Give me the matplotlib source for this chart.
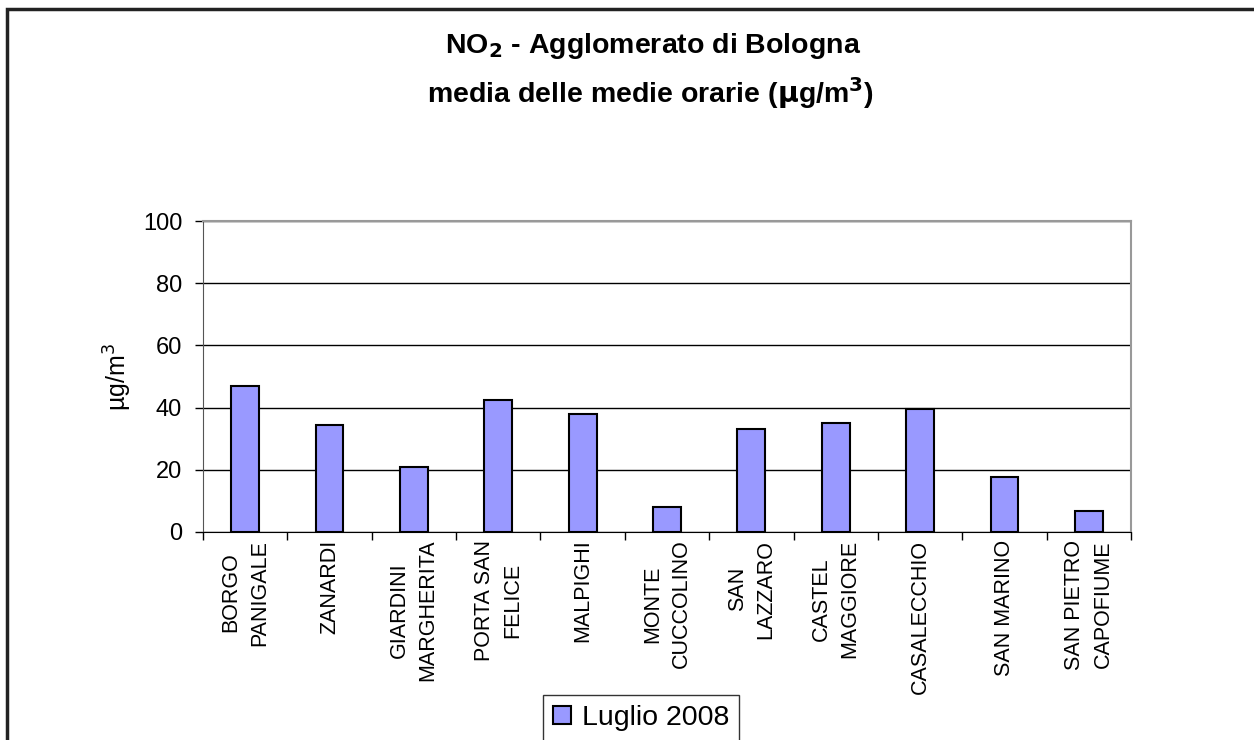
import matplotlib.pyplot as plt
from matplotlib.patches import Rectangle
import numpy as np

plt.rcParams['font.family'] = ['Liberation Sans', 'DejaVu Sans']

# stations and monthly mean NO2 (ug/m3)
stations = ['BORGO\nPANIGALE', 'ZANARDI', 'GIARDINI\nMARGHERITA', 'PORTA SAN\nFELICE',
            'MALPIGHI', 'MONTE\nCUCCOLINO', 'SAN\nLAZZARO', 'CASTEL\nMAGGIORE',
            'CASALECCHIO', 'SAN MARINO', 'SAN PIETRO\nCAPOFIUME']
values = [47.1, 34.3, 20.8, 42.6, 38.1, 8.1, 33.1, 35.0, 39.4, 17.7, 6.7]
series_name = 'Luglio 2008'
yticks = [0, 20, 40, 60, 80, 100]

W, H = 1254, 740
fig = plt.figure(figsize=(W / 100, H / 100), dpi=100)

# outer chart frame (right and bottom edges fall outside the picture)
fig.patches.append(Rectangle((7 / W, -0.1), 1.2, 1 - 9 / H + 0.1,
                             transform=fig.transFigure, fill=False,
                             edgecolor='#222222', linewidth=2.5))

ax = fig.add_axes([203 / W, 1 - 532 / H, (1131 - 203) / W, (532 - 221) / H])

x = np.arange(len(stations))
ax.bar(x, values, width=0.33, color='#9999ff', edgecolor='black', linewidth=1.5,
       label=series_name, zorder=3)

ax.set_xlim(-0.5, len(stations) - 0.5)
ax.set_ylim(0, 100)
ax.set_yticks(yticks)
ax.set_yticklabels([str(t) for t in yticks], fontsize=17)
ax.yaxis.grid(True, color='black', linewidth=1, zorder=0)
ax.set_axisbelow(True)

# category labels, tick marks between categories
ax.set_xticks(x)
ax.set_xticklabels(stations, rotation=90, fontsize=15.5, va='top', ha='center',
                   multialignment='center', linespacing=1.45)
ax.tick_params(axis='x', length=0, pad=5.5)
ax.set_xticks(np.arange(-0.5, len(stations)), minor=True)
ax.tick_params(axis='x', which='minor', length=6, direction='out', width=1)
ax.tick_params(axis='y', length=6, direction='out', width=1, pad=9)

for side in ['top', 'right']:
    ax.spines[side].set_color('#999999')
    ax.spines[side].set_linewidth(1.5)
ax.spines['left'].set_color('#555555')
ax.spines['bottom'].set_color('black')

ax.set_ylabel('µg/m$^3$', fontsize=18, labelpad=6)

fig.text(0.521, 1 - 46 / H, r'NO$_\mathbf{2}$ - Agglomerato di Bologna', ha='center',
         va='center', fontsize=20.5, fontweight='bold')
fig.text(0.519, 1 - 93 / H, r'media delle medie orarie ($\mathbf{\mu}$g/m$^\mathbf{3}$)',
         ha='center', va='center', fontsize=20.5, fontweight='bold')

leg = fig.legend(loc='upper center', bbox_to_anchor=(641 / W, 1 - 695 / H),
                 prop={'size': 20.5}, frameon=True, fancybox=False,
                 edgecolor='black', handlelength=0.65, handleheight=0.6,
                 handletextpad=0.38, borderpad=0.35, borderaxespad=0)
leg.get_frame().set_linewidth(1)

fig.savefig('out.png', dpi=100)
